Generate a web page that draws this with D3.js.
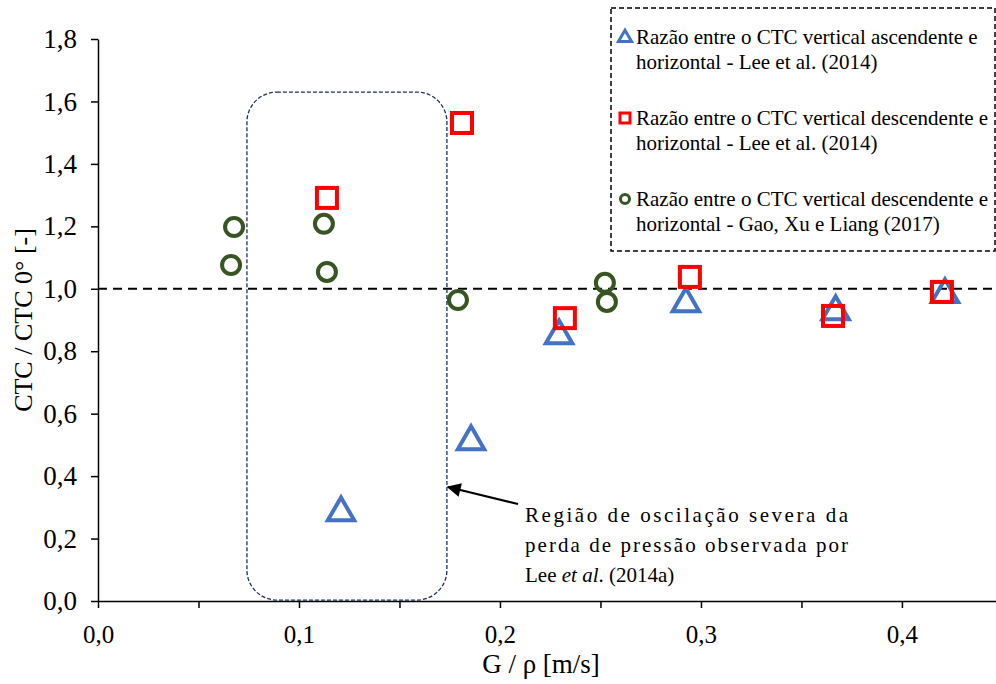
<!DOCTYPE html>
<html><head><meta charset="utf-8">
<script src="https://cdn.jsdelivr.net/npm/d3@7"></script>
<style>body{margin:0;background:#fff}svg{display:block}</style>
</head><body>
<svg id="c" width="996" height="684" font-family="Liberation Serif"></svg>
<script>
const ascX = [0.1209, 0.1856, 0.2294, 0.2925, 0.3670, 0.4214];
const ascY = [0.288, 0.516, 0.855, 0.958, 0.932, 0.987];
const descX = [0.1139, 0.1811, 0.2323, 0.2945, 0.3657, 0.4199];
const descY = [1.291, 1.531, 0.906, 1.038, 0.913, 0.990];
const gaoX = [0.0677, 0.0662, 0.1124, 0.1139, 0.1791, 0.2522, 0.2532];
const gaoY = [1.198, 1.076, 1.208, 1.054, 0.964, 1.019, 0.958];
const yTicks = [0, 0.2, 0.4, 0.6, 0.8, 1.0, 1.2, 1.4, 1.6, 1.8];
const xTicks = [0, 0.1, 0.2, 0.3, 0.4];
const xMinorTicks = [0, 0.05, 0.1, 0.15, 0.2, 0.25, 0.3, 0.35, 0.4];
const legendLabels = [
  ["Razão entre o CTC vertical ascendente e", "horizontal - Lee et al. (2014)"],
  ["Razão entre o CTC vertical descendente e", "horizontal - Lee et al. (2014)"],
  ["Razão entre o CTC vertical descendente e", "horizontal - Gao, Xu e Liang (2017)"]
];
const noteLines = ["Região de oscilação severa da", "perda de pressão observada por"];
const regionBox = {x0: 0.0741, x1: 0.1736, y0: 0.003, y1: 1.63};

const FF = "Liberation Serif";
const svg = d3.select("#c");
const x = d3.scaleLinear().domain([0, 0.4468]).range([98, 996]);
const y = d3.scaleLinear().domain([0, 1.8]).range([601, 39]);
const fmt = d => d3.format(".1f")(d).replace(".", ",");

// y axis
const ya = svg.append("g").attr("transform", "translate(98,0)")
  .call(d3.axisLeft(y).tickValues(yTicks).tickSize(7).tickSizeOuter(0).tickFormat(fmt).tickPadding(14));
ya.attr("font-family", FF).attr("font-size", 27);
ya.select(".domain").attr("stroke", "#000").attr("stroke-width", 1.5);
ya.selectAll(".tick line").attr("stroke-width", 1.5);
ya.selectAll(".tick text").attr("font-family", FF).attr("font-size", 27).attr("fill", "#000");

// x axis
const xa = svg.append("g").attr("transform", "translate(0,601)")
  .call(d3.axisBottom(x).tickValues(xMinorTicks).tickSize(7).tickSizeOuter(0)
    .tickFormat(d => xTicks.some(t => Math.abs(t - d) < 1e-9) ? fmt(d) : "").tickPadding(17));
xa.attr("font-family", FF).attr("font-size", 25);
xa.select(".domain").attr("stroke", "#000").attr("stroke-width", 1.5);
xa.selectAll(".tick line").attr("stroke-width", 1.5);
xa.selectAll(".tick text").attr("font-family", FF).attr("font-size", 25).attr("fill", "#000");

// axis titles
svg.append("text").attr("x", 541).attr("y", 673).attr("text-anchor", "middle")
  .attr("font-size", 27).attr("font-family", FF).text("G / ρ [m/s]");
svg.append("text").attr("transform", "translate(32,320) rotate(-90)").attr("text-anchor", "middle")
  .attr("font-size", 26).attr("font-family", FF).text("CTC / CTC 0° [-]");

// reference line at 1.0
svg.append("line").attr("x1", x(0)).attr("x2", 996).attr("y1", y(1)).attr("y2", y(1))
  .attr("stroke", "#000").attr("stroke-width", 2).attr("stroke-dasharray", "9,6");

// region box
svg.append("rect").attr("x", x(regionBox.x0)).attr("y", y(regionBox.y1))
  .attr("width", x(regionBox.x1) - x(regionBox.x0)).attr("height", y(regionBox.y0) - y(regionBox.y1))
  .attr("rx", 30).attr("ry", 30).attr("fill", "none").attr("stroke", "#1f2f55")
  .attr("stroke-width", 1.3).attr("stroke-dasharray", "4,2");

// arrow
svg.append("defs").append("marker").attr("id", "ah").attr("viewBox", "0 0 10 10")
  .attr("refX", 9).attr("refY", 5).attr("markerWidth", 16).attr("markerHeight", 14)
  .attr("markerUnits", "userSpaceOnUse").attr("orient", "auto")
  .append("path").attr("d", "M0,0 L10,5 L0,10 z").attr("fill", "#000");
svg.append("line").attr("x1", 518).attr("y1", 504).attr("x2", 448).attr("y2", 487)
  .attr("stroke", "#000").attr("stroke-width", 2.2).attr("marker-end", "url(#ah)");

// note text (justified)
const noteG = svg.append("g");
noteLines.forEach((ln, i) => {
  noteG.append("text").attr("x", 525).attr("y", 522 + i * 30).attr("font-size", 21).attr("font-family", FF)
    .attr("textLength", 323).attr("lengthAdjust", "spacing").text(ln);
});
const t3 = noteG.append("text").attr("x", 525).attr("y", 582).attr("font-size", 21).attr("font-family", FF);
t3.append("tspan").text("Lee ");
t3.append("tspan").attr("font-style", "italic").text("et al");
t3.append("tspan").text(". (2014a)");

// markers
const tri = (cx, cy, s) => `M${cx},${cy - s * 0.62} L${cx + s * 0.6},${cy + s * 0.42} L${cx - s * 0.6},${cy + s * 0.42} Z`;
const g = svg.append("g");
ascX.forEach((d, i) => g.append("path").attr("d", tri(x(d), y(ascY[i]), 22))
  .attr("fill", "none").attr("stroke", "#4472C4").attr("stroke-width", 4).attr("stroke-linejoin", "miter"));
descX.forEach((d, i) => g.append("rect").attr("x", x(d) - 10).attr("y", y(descY[i]) - 10)
  .attr("width", 20).attr("height", 20).attr("fill", "none").attr("stroke", "#FF0000").attr("stroke-width", 4));
gaoX.forEach((d, i) => g.append("circle").attr("cx", x(d)).attr("cy", y(gaoY[i])).attr("r", 9)
  .attr("fill", "none").attr("stroke", "#375623").attr("stroke-width", 4));

// legend
svg.append("rect").attr("x", 611).attr("y", 8).attr("width", 384).attr("height", 243)
  .attr("fill", "#fff").attr("stroke", "#000").attr("stroke-width", 1.5).attr("stroke-dasharray", "5,3");
const lg = svg.append("g");
const ly = [37, 118, 199];
legendLabels.forEach((lines, i) => {
  lines.forEach((ln, j) => lg.append("text").attr("x", 636).attr("y", ly[i] + j * 25 + 7)
    .attr("font-size", 21).attr("font-family", FF).text(ln));
});
lg.append("path").attr("d", tri(625, ly[0], 11)).attr("fill", "#fff").attr("stroke", "#4472C4").attr("stroke-width", 3);
lg.append("rect").attr("x", 620).attr("y", ly[1] - 5).attr("width", 10).attr("height", 10)
  .attr("fill", "#fff").attr("stroke", "#FF0000").attr("stroke-width", 3);
lg.append("circle").attr("cx", 625).attr("cy", ly[2]).attr("r", 4.5)
  .attr("fill", "#fff").attr("stroke", "#375623").attr("stroke-width", 3);
</script>
</body></html>
